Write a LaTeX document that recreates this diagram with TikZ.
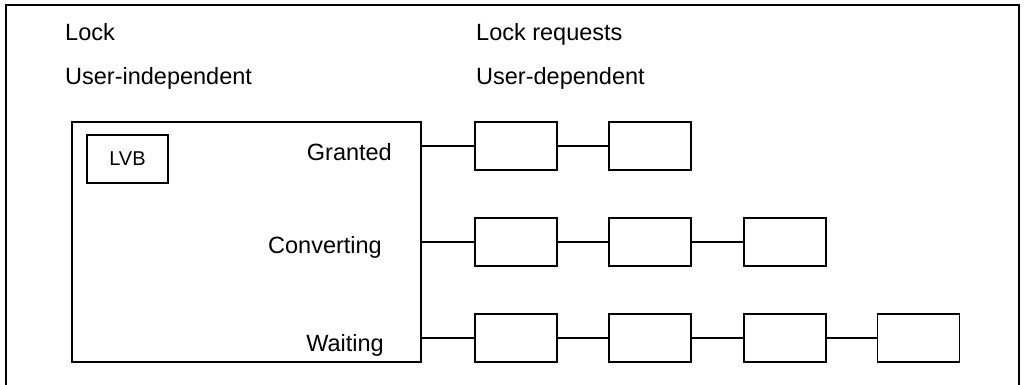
\documentclass[tikz,border=0pt]{standalone}
\usepackage{fontspec}
\setmainfont{Liberation Sans}
\usepackage{tikz}
\usetikzlibrary{calc,positioning}
\tikzstyle{req}   = [rectangle, draw=black, line width=1.1pt, minimum width=82pt, minimum height=48pt, inner sep=0pt]
\tikzstyle{label} = [font=\fontsize{23.5}{26}\selectfont, inner sep=0pt]
\tikzstyle{link}  = [line width=1.1pt]

\begin{document}
\begin{tikzpicture}[x=1pt,y=-1pt]
        \useasboundingbox (0,0) rectangle (1024,384);
        \clip (0,0) rectangle (1024,384);
        % outer frame
        \draw[link] (6,400) -- (6,5) -- (1019,5) -- (1019,400);

        % headings
        \node[label, anchor=base west] (lockhead) at (65,40) {Lock};
        \node[label, anchor=base west] (indep)    at (65,84) {User-independent};
        \node[label, anchor=base west] (reqhead)  at (476,40) {Lock requests};
        \node[label, anchor=base west] (dep)      at (476,84) {User-dependent};

        % lock block
        \node[req, minimum width=349pt, minimum height=240pt] (lock) at (246.5,242) {};
        \node[req, minimum width=81pt, minimum height=48pt, font=\fontsize{20}{22}\selectfont] (lvb) at (127.5,159) {LVB};
        \node[label, anchor=base east] (granted)    at (392,160) {Granted};
        \node[label, anchor=base east] (converting) at (382,253) {Converting};
        \node[label, anchor=base east] (waiting)    at (384,351) {Waiting};

        % granted queue
        \node[req] (g1) at (516,146) {};
        \node[req] (g2) at (650,146) {};

        % converting queue
        \node[req] (c1) at (516,242) {};
        \node[req] (c2) at (650,242) {};
        \node[req] (c3) at (785,242) {};

        % waiting queue
        \node[req] (w1) at (516,338) {};
        \node[req] (w2) at (650,338) {};
        \node[req] (w3) at (785,338) {};
        \node[req] (w4) at (918.5,338) {};

        \draw[link] (g1.west -| lock.east) -- (g1.west);
        \draw[link] (c1.west -| lock.east) -- (c1.west);
        \draw[link] (w1.west -| lock.east) -- (w1.west);
        \draw[link] (g1) -- (g2);
        \draw[link] (c1) -- (c2);
        \draw[link] (c2) -- (c3);
        \draw[link] (w1) -- (w2);
        \draw[link] (w2) -- (w3);
        \draw[link] (w3) -- (w4);
    \end{tikzpicture}
\end{document}
